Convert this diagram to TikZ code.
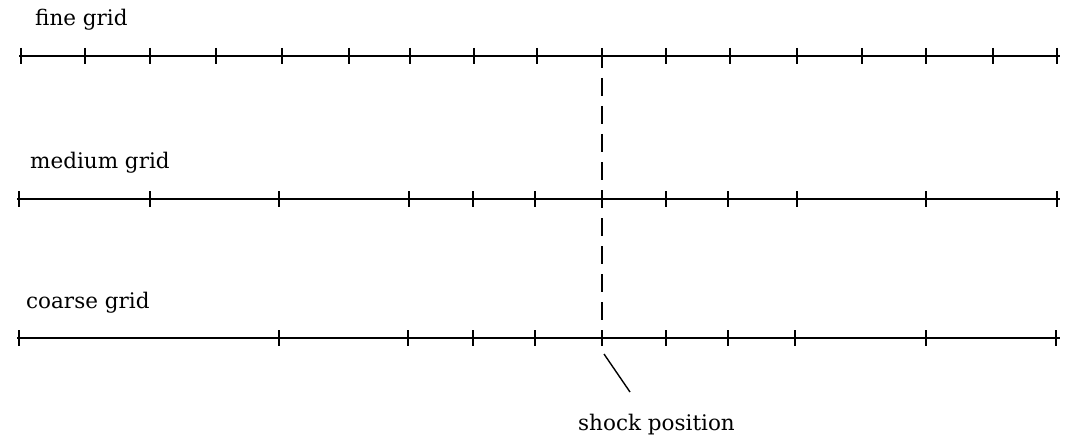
\documentclass[tikz,border=0pt]{standalone}
\usepackage{fontspec}
\setmainfont{DejaVu Serif}
\begin{document}
\begin{tikzpicture}[x=1pt,y=-1pt,
  axis/.style={line width=1.6pt},
  tickmark/.style={line width=1.8pt},
  lbl/.style={anchor=base west,inner sep=0pt,font=\fontsize{21.5}{24}\selectfont},
  shockdash/.style={line width=1.5pt,dash pattern=on 18pt off 10pt}]
\useasboundingbox (0,0) rectangle (1065,441);
% fine grid
\node[lbl] (fine) at (35,26) {fine grid};
\draw[axis] (19,56) -- (1060,56);
\foreach \x in {21,85,150,216,282,349,410,474,537,602,666,730,797,862,926,993,1057}
  \draw[tickmark] (\x,48) -- (\x,64);
% medium grid
\node[lbl] (medium) at (30,168) {medium grid};
\draw[axis] (17,199) -- (1060,199);
\foreach \x in {19,150,279,409,473,535,602,666,728,797,926,1057}
  \draw[tickmark] (\x,191) -- (\x,207);
% coarse grid
\node[lbl] (coarse) at (26,308) {coarse grid};
\draw[axis] (17,338) -- (1060,338);
\foreach \x in {19,279,408,473,535,602,666,728,795,926,1056}
  \draw[tickmark] (\x,330) -- (\x,346);
% shock
\coordinate (ftop) at (602,56);
\coordinate (cbot) at (602,338);
\draw[shockdash,dash phase=-22pt] (ftop) -- (cbot);
\coordinate (ps) at (604,354);
\node[lbl] (shock) at (578,430) {shock position};
\coordinate (pe) at (630,392);
\draw[line width=1.4pt] (ps) -- (pe);
\end{tikzpicture}
\end{document}
